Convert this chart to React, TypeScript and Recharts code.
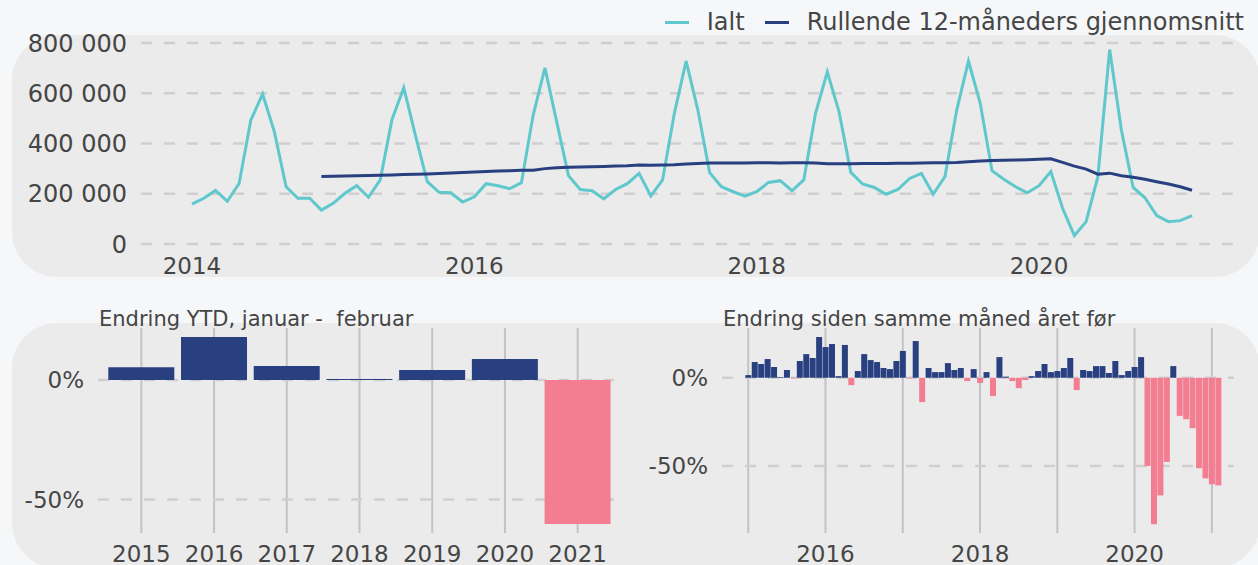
import React from "react";
import { LineChart, Line, BarChart, Bar, Cell, XAxis, YAxis, CartesianGrid } from "recharts";

// farger hentet fra referansen
const TEAL = "#5fc8cc";
const NAVY = "#283f80";
const PINK = "#f37d91";
const TEXT = "#454545";
const GRID = "#cfcfcf";
const VGRID = "#c3c3c3";
const PANEL = "#ebebeb";
const PAGE = "#f6f7f9";
const FONT = "'DejaVu Sans', 'Noto Sans', sans-serif";

// Ialt per måned (tusen), jan 2014 - feb 2021
const firstYear = 2014;
const ialt = [
  159, 182, 213, 170, 240, 493, 597, 447, 228, 182, 182, 135,
  162, 202, 232, 186, 255, 496, 622, 430, 248, 206, 204, 167,
  188, 240, 232, 220, 244, 513, 701, 486, 272, 217, 212, 180,
  217, 240, 281, 191, 255, 520, 728, 533, 284, 228, 208, 190,
  208, 245, 252, 212, 255, 520, 685, 526, 285, 239, 225, 198,
  217, 261, 281, 198, 268, 533, 728, 560, 292, 258, 228, 204,
  232, 288, 142, 33, 89, 268, 774, 453, 225, 184, 113, 89,
  93, 113,
];

// Rullende 12-måneders gjennomsnitt (tusen), des 2014 - feb 2021
const rollingStart = 11;
const rolling = [
  269,
  270, 271, 272, 273, 274, 275, 277, 278, 279, 281, 283, 285,
  287, 289, 291, 292, 294, 294, 300, 303, 305, 306, 307, 308,
  310, 311, 314, 313, 314, 315, 318, 320, 322, 322, 322, 322,
  323, 323, 322, 323, 323, 322, 319, 319, 319, 320, 320, 320,
  321, 321, 322, 323, 323, 324, 327, 330, 332, 333, 334, 335,
  337, 339, 325, 310, 298, 278, 282, 272, 266, 258, 248, 239,
  228, 214,
];

const topYTicks = [0, 200000, 400000, 600000, 800000];
const topXTicks = [0, 24, 48, 72];

// Endring YTD, januar - februar (%)
const ytdYears = ["2015", "2016", "2017", "2018", "2019", "2020", "2021"];
const ytdChange = [5.4, 18, 5.9, 0.5, 4.2, 8.8, -60.2];

// Endring siden samme måned året før (%), jan 2015 - feb 2021
const monthStartYear = 2015;
const monthlyChange = [
  1.5, 8.9, 7.8, 10.6, 6.1, 0.4, 4.4, -0.3, 9.5, 13.4, 11.2, 23.1,
  17.4, 19.1, 0.9, 18.6, -4.2, 3.8, 13.4, 10.0, 8.9, 5.5, 4.9, 9.5,
  15.2, -0.3, 20.8, -13.8, 5.5, 3.2, 3.2, 8.3, 4.4, 5.5, -1.9, 4.9,
  -3.0, 3.2, -10.4, 11.7, 0.6, -1.9, -5.9, -1.3, 0.9, 3.8, 7.8, 3.2,
  3.8, 5.5, 11.2, -7.0, 4.4, 3.8, 6.6, 6.6, 2.7, 9.5, 1.5, 3.8,
  6.1, 11.7, -50.0, -83.1, -66.7, -47.7, 6.6, -21.6, -23.5, -28.6, -51.3, -57.0,
  -60.4, -61.0,
];

const pctTicks = [-50, 0];

const lineData = ialt.map((v, i) => ({
  i,
  ialt: v * 1000,
  rolling: i >= rollingStart ? rolling[i - rollingStart] * 1000 : null,
}));

const ytdData = ytdYears.map((year, i) => ({ year, v: ytdChange[i] }));

const monthData = monthlyChange.map((v, i) => ({
  m: `${monthStartYear + Math.floor(i / 12)}-${String((i % 12) + 1).padStart(2, "0")}`,
  v,
}));
const monthTicks = monthData.filter((_, i) => i % 12 === 0).map((d) => d.m);

const legendItems = [
  { label: "Ialt", color: TEAL },
  { label: "Rullende 12-måneders gjennomsnitt", color: NAVY },
];

const tickStyle = { fill: TEXT, fontSize: 23, fontFamily: FONT };

const fmtThousands = (v: number) => String(v).replace(/\B(?=(\d{3})+(?!\d))/g, " ");
const fmtPct = (v: number) => `${v}%`;
const barColor = (v: number) => (v < 0 ? PINK : NAVY);

const abs = (left: number, top: number): React.CSSProperties => ({ position: "absolute", left, top });

export default function App() {
  return (
    <div
      style={{
        position: "absolute",
        left: 0,
        top: 0,
        width: 1258,
        height: 565,
        overflow: "hidden",
        background: PAGE,
        fontFamily: FONT,
      }}
    >
      {/* bakgrunnspaneler */}
      <div style={{ ...abs(12, 35), width: 1248, height: 242, borderRadius: 45, background: PANEL }} />
      <div style={{ ...abs(12, 323), width: 1248, height: 245, borderRadius: 45, background: PANEL }} />

      {/* legende */}
      <div
        style={{
          position: "absolute",
          top: 8,
          right: 14,
          display: "flex",
          alignItems: "center",
          fontSize: 24,
          lineHeight: "28px",
          color: TEXT,
        }}
      >
        {legendItems.map((it, idx) => (
          <React.Fragment key={it.label}>
            <span style={{ display: "inline-block", width: 24, height: 3, background: it.color, marginRight: 18 }} />
            <span style={{ marginRight: idx < legendItems.length - 1 ? 20 : 0 }}>{it.label}</span>
          </React.Fragment>
        ))}
      </div>

      <div style={abs(0, 0)}>
        <LineChart width={1258} height={290} data={lineData} margin={{ top: 43, right: 13, bottom: 16, left: 12 }}>
          <CartesianGrid vertical={false} syncWithTicks stroke={GRID} strokeWidth={2.5} strokeDasharray="11 12" />
          <XAxis
            dataKey="i"
            type="number"
            domain={[0, ialt.length - 1]}
            ticks={topXTicks}
            tickFormatter={(i: number) => String(firstYear + i / 12)}
            padding={{ left: 51, right: 53 }}
            axisLine={false}
            tickLine={false}
            tickMargin={8}
            tick={tickStyle}
            height={30}
          />
          <YAxis
            width={129}
            domain={[0, 800000]}
            ticks={topYTicks}
            tickFormatter={fmtThousands}
            axisLine={false}
            tickLine={false}
            tickMargin={8}
            tick={{ ...tickStyle, fontSize: 24 }}
          />
          <Line type="linear" dataKey="ialt" stroke={TEAL} strokeWidth={3} dot={false} isAnimationActive={false} />
          <Line type="linear" dataKey="rolling" stroke={NAVY} strokeWidth={3} dot={false} isAnimationActive={false} />
        </LineChart>
      </div>

      {/* titler */}
      <div style={{ ...abs(99, 306), fontSize: 21, color: TEXT, whiteSpace: "pre", lineHeight: "26px" }}>
        Endring YTD, januar -  februar
      </div>
      <div style={{ ...abs(723, 306), fontSize: 21, color: TEXT, whiteSpace: "pre", lineHeight: "26px" }}>
        Endring siden samme måned året før
      </div>

      <div style={abs(0, 290)}>
        <BarChart width={640} height={275} data={ytdData} margin={{ top: 38, right: 26, bottom: 2, left: 12 }} barCategoryGap={3.3}>
          <CartesianGrid horizontal={false} syncWithTicks stroke={VGRID} strokeWidth={2} />
          <CartesianGrid vertical={false} syncWithTicks stroke={GRID} strokeWidth={2.5} strokeDasharray="11 12" />
          <XAxis
            dataKey="year"
            padding={{ left: 7, right: 0 }}
            axisLine={false}
            tickLine={false}
            tickMargin={7}
            tick={tickStyle}
            height={30}
          />
          <YAxis
            width={86}
            domain={[-64, 21.8]}
            ticks={pctTicks}
            tickFormatter={fmtPct}
            axisLine={false}
            tickLine={false}
            tickMargin={8}
            tick={tickStyle}
          />
          <Bar dataKey="v" isAnimationActive={false}>
            {ytdData.map((d) => (
              <Cell key={d.year} fill={barColor(d.v)} />
            ))}
          </Bar>
        </BarChart>
      </div>

      <div style={abs(630, 290)}>
        <BarChart width={628} height={275} data={monthData} margin={{ top: 38, right: 24, bottom: 2, left: 12 }} barCategoryGap={0.3}>
          <CartesianGrid horizontal={false} syncWithTicks stroke={VGRID} strokeWidth={2} />
          <CartesianGrid vertical={false} syncWithTicks stroke={GRID} strokeWidth={2.5} strokeDasharray="11 12" />
          <XAxis
            dataKey="m"
            ticks={monthTicks}
            interval={0}
            tickFormatter={(m: string) => {
              const y = Number(m.slice(0, 4));
              return y % 2 === 0 ? String(y) : "";
            }}
            padding={{ left: 23, right: 12.5 }}
            axisLine={false}
            tickLine={false}
            tickMargin={7}
            tick={tickStyle}
            height={30}
          />
          <YAxis
            width={80}
            domain={[-88, 28.2]}
            ticks={pctTicks}
            tickFormatter={fmtPct}
            axisLine={false}
            tickLine={false}
            tickMargin={8}
            tick={tickStyle}
          />
          <Bar dataKey="v" isAnimationActive={false}>
            {monthData.map((d) => (
              <Cell key={d.m} fill={barColor(d.v)} />
            ))}
          </Bar>
        </BarChart>
      </div>
    </div>
  );
}
